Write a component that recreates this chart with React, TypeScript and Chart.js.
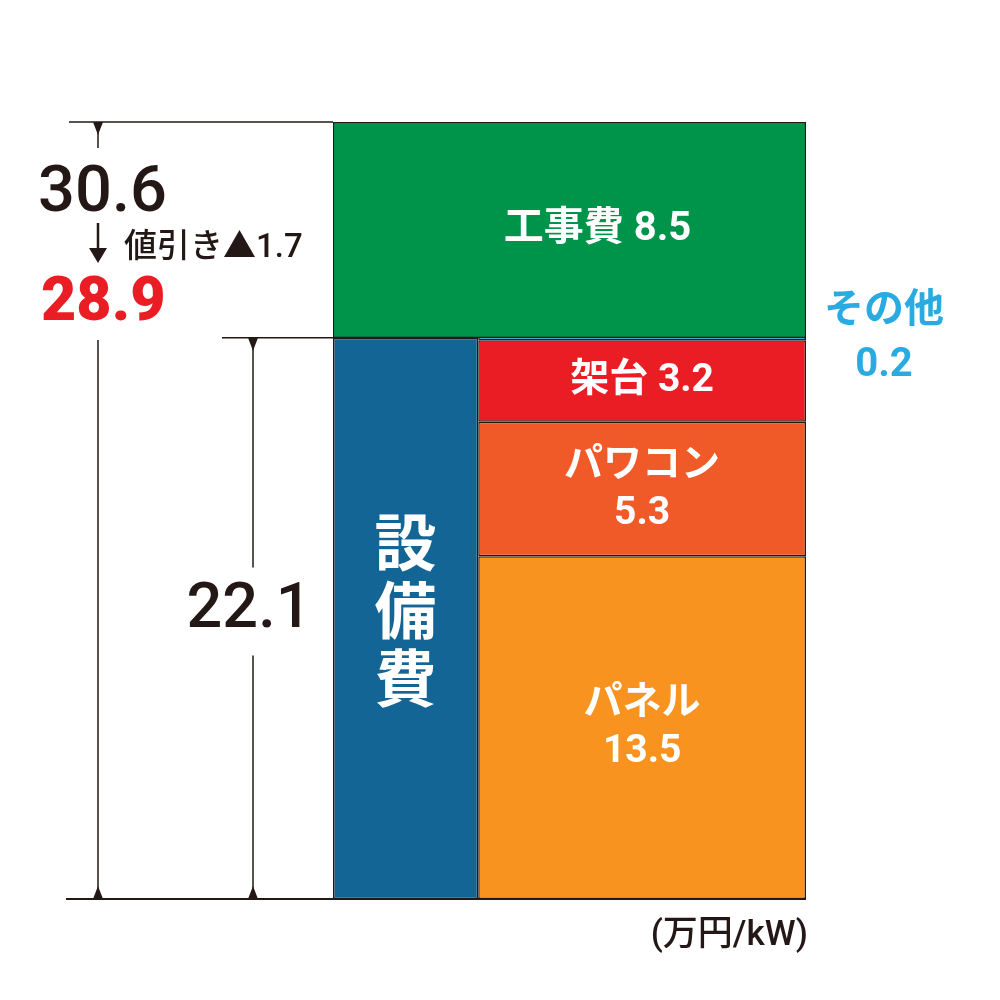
import { useEffect, useRef } from "react"
import { Chart, registerables } from "chart.js"

Chart.register(...registerables)

// 単位: 万円/kW
const totalCost = 30.6
const discount = 1.7
const discountedTotal = 28.9

const constructionLabel = "工事費"
const constructionCost = 8.5

const equipmentLabel = "設備費"
const equipmentTotal = 22.1

const breakdownLabels = ["パネル", "パワコン", "架台", "その他"]
const breakdownValues = [13.5, 5.3, 3.2, 0.2]
const breakdownColors = ["#f7931e", "#f05a28", "#ea1d25", "#29abe2"]

const unitLabel = "(万円/kW)"

const DARK = "#231815"
const FONT = 'Roboto, "Noto Sans CJK JP", sans-serif'
// 設備費の柱が占める横幅の割合
const LEFT_SHARE = 0.307

const fmt = (v: number) => v.toFixed(1)

const annotations = {
  id: "costAnnotations",
  afterDatasetsDraw(chart: any) {
    const ctx: CanvasRenderingContext2D = chart.ctx
    const area = chart.chartArea
    const y = chart.scales.y
    const yTop = y.getPixelForValue(totalCost)
    const yBase = y.getPixelForValue(0)
    const yEquip = y.getPixelForValue(equipmentTotal)

    const bar = (i: number) => {
      const el: any = chart.getDatasetMeta(i).data[0]
      return { x: el.x, y: (el.y + el.base) / 2 }
    }

    ctx.save()
    ctx.textAlign = "center"
    ctx.textBaseline = "middle"
    ctx.fillStyle = "#fff"

    // 工事費
    const k = bar(0)
    ctx.font = `bold 40px ${FONT}`
    ctx.fillText(`${constructionLabel} ${fmt(constructionCost)}`, k.x + 28, k.y)

    // 設備費 (縦書き)
    const e = bar(1)
    ctx.font = `bold 62px ${FONT}`
    const chars = [...equipmentLabel]
    chars.forEach((c, i) => {
      ctx.fillText(c, e.x, e.y + (i - (chars.length - 1) / 2) * 68)
    })

    // 内訳
    breakdownLabels.forEach((label, i) => {
      const p = bar(2 + i)
      const value = fmt(breakdownValues[i])
      if (i === 3) {
        ctx.font = `bold 40px ${FONT}`
        ctx.fillStyle = breakdownColors[3]
        ctx.fillText(label, area.right + 78, p.y - 26)
        ctx.fillText(value, area.right + 78, p.y + 28)
        ctx.fillStyle = "#fff"
      } else if (i === 2) {
        ctx.font = `bold 39px ${FONT}`
        ctx.fillText(`${label} ${value}`, p.x, p.y)
      } else {
        ctx.font = `bold 39px ${FONT}`
        ctx.fillText(label, p.x, p.y - 23)
        ctx.fillText(value, p.x, p.y + 25)
      }
    })

    // 寸法線
    ctx.strokeStyle = DARK
    ctx.fillStyle = DARK
    ctx.lineWidth = 1.5
    const line = (x1: number, y1: number, x2: number, y2: number) => {
      ctx.beginPath()
      ctx.moveTo(x1, y1)
      ctx.lineTo(x2, y2)
      ctx.stroke()
    }
    const wedge = (x: number, yy: number, dir: number) => {
      ctx.beginPath()
      ctx.moveTo(x - 5, yy)
      ctx.lineTo(x + 5, yy)
      ctx.lineTo(x, yy + dir * 13)
      ctx.closePath()
      ctx.fill()
    }

    line(69, yTop, area.left, yTop)
    ctx.lineWidth = 2
    line(66, yBase, area.right, yBase)
    ctx.lineWidth = 1.5

    const xa = 98
    line(xa, yTop, xa, yTop + 26)
    line(xa, yTop + 218, xa, yBase)
    wedge(xa, yTop, 1)
    wedge(xa, yBase, -1)

    // ↓
    ctx.lineWidth = 2.5
    line(xa, yTop + 101, xa, yTop + 130)
    ctx.beginPath()
    ctx.moveTo(xa - 9, yTop + 126)
    ctx.lineTo(xa + 9, yTop + 126)
    ctx.lineTo(xa, yTop + 141)
    ctx.closePath()
    ctx.fill()
    ctx.lineWidth = 1.5

    const xb = 253
    const midB = (yEquip + yBase) / 2 - 9
    line(222, yEquip, area.left, yEquip)
    line(xb, yEquip, xb, midB - 42)
    line(xb, midB + 46, xb, yBase)
    wedge(xb, yEquip, 1)
    wedge(xb, yBase, -1)

    // 数値
    ctx.textAlign = "left"
    ctx.textBaseline = "alphabetic"
    ctx.font = `500 65px ${FONT}`
    ctx.fillText(fmt(totalCost), 38, yTop + 89)
    ctx.font = `500 33px ${FONT}`
    ctx.fillText(`値引き▲${fmt(discount)}`, 124, yTop + 135)
    ctx.fillStyle = "#ea1d25"
    ctx.font = `900 61px ${FONT}`
    ctx.fillText(fmt(discountedTotal), 41, yTop + 198)

    ctx.fillStyle = DARK
    ctx.textAlign = "center"
    ctx.textBaseline = "middle"
    ctx.font = `500 63px ${FONT}`
    ctx.fillText(fmt(equipmentTotal), 249, midB + 2)

    ctx.textAlign = "right"
    ctx.textBaseline = "alphabetic"
    ctx.font = `500 35px ${FONT}`
    ctx.fillText(unitLabel, area.right + 2, yBase + 46)

    ctx.restore()
  },
}

export default function App() {
  const canvasRef = useRef<HTMLCanvasElement>(null)
  const chartRef = useRef<Chart | null>(null)

  useEffect(() => {
    document.body.style.margin = "0"
    if (!canvasRef.current) return
    if (chartRef.current) chartRef.current.destroy()

    const ctx = canvasRef.current.getContext("2d")
    if (!ctx) return

    const barStyle = {
      grouped: false,
      categoryPercentage: 1,
      borderWidth: 1.5,
      borderColor: DARK,
      borderSkipped: false as const,
    }
    const rightCenter = LEFT_SHARE + (1 - LEFT_SHARE) / 2
    const xScale = {
      type: "linear" as const,
      min: 0,
      max: 1,
      offset: false,
      display: false,
      ticks: { stepSize: 1 },
    }

    chartRef.current = new Chart(ctx, {
      type: "bar",
      data: {
        datasets: [
          {
            ...barStyle,
            label: constructionLabel,
            xAxisID: "xAll",
            data: [{ x: 0.5, y: [equipmentTotal, equipmentTotal + constructionCost] }] as any,
            barPercentage: 1,
            backgroundColor: "#00934a",
          },
          {
            ...barStyle,
            label: equipmentLabel,
            xAxisID: "xLeft",
            data: [{ x: LEFT_SHARE / 2, y: equipmentTotal }],
            barPercentage: LEFT_SHARE,
            backgroundColor: "#136595",
          },
          ...breakdownLabels.map((label, i) => ({
            ...barStyle,
            label,
            xAxisID: "xRight",
            data: [{ x: rightCenter, y: breakdownValues[i] }],
            barPercentage: 1 - LEFT_SHARE,
            backgroundColor: breakdownColors[i],
          })),
        ],
      },
      options: {
        animation: false,
        responsive: false,
        layout: { padding: { left: 333, right: 194, top: 122, bottom: 101 } },
        plugins: {
          legend: { display: false },
          tooltip: { enabled: false },
        },
        scales: {
          xAll: xScale,
          xLeft: xScale,
          xRight: xScale,
          y: { type: "linear", stacked: true, min: 0, max: totalCost, display: false },
        },
      },
      plugins: [annotations],
    })

    return () => {
      if (chartRef.current) {
        chartRef.current.destroy()
        chartRef.current = null
      }
    }
  }, [])

  return (
    <div style={{ width: 1000, height: 1000 }}>
      <canvas ref={canvasRef} width={1000} height={1000} style={{ display: "block" }} />
    </div>
  )
}
